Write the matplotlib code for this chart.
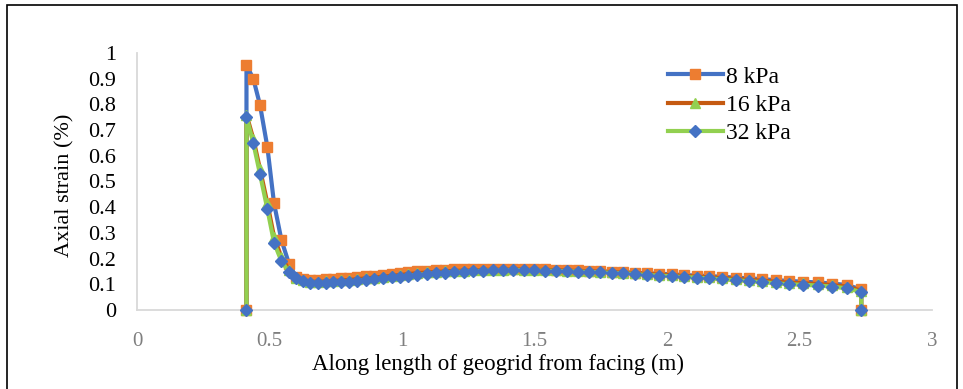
import numpy as np
import matplotlib
matplotlib.use("Agg")
import matplotlib.pyplot as plt
from matplotlib.patches import Rectangle

plt.rcParams['font.family'] = ['Liberation Serif', 'DejaVu Serif']

# distance along the geogrid (m), shared by all three load cases
x = [0.413, 0.413, 0.439, 0.464, 0.492, 0.517, 0.545, 0.574, 0.600, 0.625,
     0.653, 0.684, 0.713, 0.741, 0.770, 0.800, 0.831, 0.864, 0.894, 0.927,
     0.961, 0.992, 1.024, 1.058, 1.093, 1.128, 1.162, 1.196, 1.234, 1.269,
     1.307, 1.345, 1.382, 1.420, 1.460, 1.499, 1.540, 1.580, 1.622, 1.664,
     1.706, 1.747, 1.791, 1.835, 1.879, 1.923, 1.970, 2.018, 2.064, 2.112,
     2.159, 2.209, 2.259, 2.309, 2.360, 2.411, 2.462, 2.514, 2.570, 2.624,
     2.679, 2.733, 2.733]

# axial strain (%)
strain_8 = [0, 0.953, 0.899, 0.798, 0.633, 0.415, 0.272, 0.178, 0.128, 0.120,
            0.118, 0.118, 0.119, 0.121, 0.123, 0.125, 0.128, 0.131, 0.134, 0.137,
            0.140, 0.143, 0.147, 0.150, 0.152, 0.154, 0.156, 0.158, 0.159, 0.160,
            0.161, 0.161, 0.161, 0.161, 0.160, 0.159, 0.158, 0.157, 0.155, 0.154,
            0.153, 0.151, 0.149, 0.147, 0.145, 0.143, 0.141, 0.139, 0.136, 0.134,
            0.132, 0.129, 0.126, 0.123, 0.120, 0.116, 0.113, 0.110, 0.107, 0.103,
            0.097, 0.080, 0]
strain_16 = [0, 0.760, 0.665, 0.548, 0.415, 0.285, 0.205, 0.155, 0.126, 0.116,
             0.110, 0.110, 0.111, 0.113, 0.115, 0.117, 0.120, 0.123, 0.126, 0.129,
             0.133, 0.136, 0.140, 0.143, 0.146, 0.148, 0.150, 0.152, 0.153, 0.154,
             0.156, 0.157, 0.157, 0.158, 0.157, 0.156, 0.156, 0.155, 0.153, 0.152,
             0.151, 0.149, 0.147, 0.145, 0.143, 0.140, 0.138, 0.135, 0.132, 0.130,
             0.127, 0.124, 0.121, 0.117, 0.114, 0.110, 0.106, 0.104, 0.101, 0.097,
             0.091, 0.075, 0]
strain_32 = [0, 0.752, 0.649, 0.529, 0.392, 0.262, 0.190, 0.147, 0.123, 0.114,
             0.106, 0.106, 0.106, 0.108, 0.109, 0.110, 0.113, 0.117, 0.119, 0.123,
             0.127, 0.130, 0.134, 0.137, 0.140, 0.143, 0.145, 0.148, 0.149, 0.151,
             0.153, 0.154, 0.155, 0.156, 0.155, 0.154, 0.153, 0.152, 0.151, 0.149,
             0.148, 0.147, 0.144, 0.143, 0.140, 0.136, 0.134, 0.131, 0.128, 0.126,
             0.123, 0.119, 0.116, 0.112, 0.108, 0.104, 0.100, 0.098, 0.095, 0.091,
             0.084, 0.070, 0]

labels = ['8 kPa', '16 kPa', '32 kPa']
xticks = [0, 0.5, 1, 1.5, 2, 2.5, 3]
yticks = [0, 0.1, 0.2, 0.3, 0.4, 0.5, 0.6, 0.7, 0.8, 0.9, 1]

blue = '#4472C4'
orange = '#ED7D31'
dark_orange = '#C55A11'
green = '#92D050'

fig = plt.figure(figsize=(9.63, 3.89), dpi=100)
ax = fig.add_axes([0.1423, 0.2031, 0.8255, 0.6607])

ax.plot(x, strain_8, color=blue, lw=3, marker='s', ms=7,
        mfc=orange, mec=orange, label=labels[0], clip_on=False, zorder=3)
ax.plot(x, strain_16, color=dark_orange, lw=3, marker='^', ms=7,
        mfc=green, mec=green, label=labels[1], clip_on=False, zorder=4)
ax.plot(x, strain_32, color=green, lw=3, marker='D', ms=6.5,
        mfc=blue, mec=blue, label=labels[2], clip_on=False, zorder=5)

ax.set_xlim(0, 3)
ax.set_ylim(0, 1)
ax.set_xticks(xticks)
ax.set_xticklabels(['{:g}'.format(v) for v in xticks])
ax.set_yticks(yticks)
ax.set_yticklabels(['{:g}'.format(v) for v in yticks])
ax.tick_params(axis='both', length=0, labelsize=16)
ax.tick_params(axis='x', colors='#7F7F7F', labelsize=15, pad=16)
ax.tick_params(axis='y', colors='black', pad=15)

for side in ['top', 'right']:
    ax.spines[side].set_visible(False)
for side in ['left', 'bottom']:
    ax.spines[side].set_color('#D9D9D9')
    ax.spines[side].set_linewidth(1.3)

ax.set_xlabel('Along length of geogrid from facing (m)', fontsize=16.5, x=0.454, labelpad=2)
ax.set_ylabel('Axial strain (%)', fontsize=16, y=0.486, labelpad=10)

ax.legend(loc='upper left', bbox_to_anchor=(0.694, 0.83), bbox_transform=fig.transFigure,
          frameon=False, fontsize=17, handlelength=2.3, handletextpad=0.15,
          labelspacing=0.28, borderpad=0, borderaxespad=0)

# outer frame of the chart area
fig.patches.append(Rectangle((7 / 963, -0.05), 950 / 963, 1.05 - 5 / 389,
                             transform=fig.transFigure, fill=False,
                             edgecolor='black', lw=1.2))

fig.savefig('out.png', dpi=100)
